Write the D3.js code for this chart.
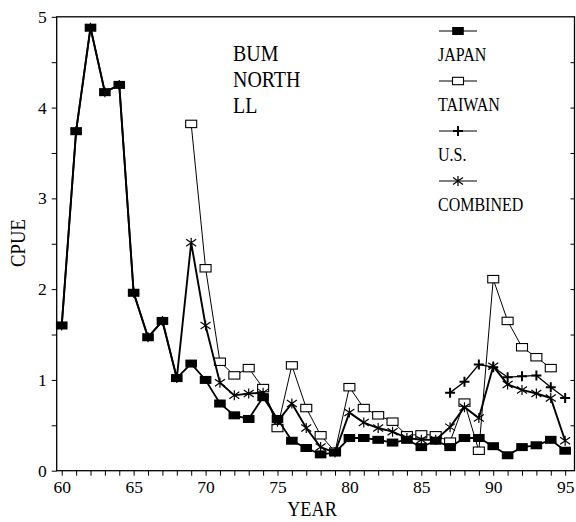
<!DOCTYPE html>
<html><head><meta charset="utf-8">
<script src="https://cdn.jsdelivr.net/npm/d3@7"></script>
<style>body{margin:0;background:#fff}svg{display:block}text{font-family:"Liberation Serif","Times New Roman",serif;fill:#000}</style>
</head><body><div id="chart"></div>
<script>
const years = d3.range(60, 96);
const japan = [1.60,3.74,4.88,4.17,4.25,1.96,1.47,1.65,1.02,1.18,1.00,0.74,0.61,0.57,0.81,0.57,0.33,0.25,0.18,0.20,0.36,0.36,0.34,0.31,0.34,0.26,0.33,0.26,0.36,0.36,0.27,0.17,0.26,0.28,0.34,0.22];
const taiwanYears = d3.range(69, 95);
const taiwan = [3.82,2.23,1.20,1.05,1.13,0.91,0.47,1.16,0.69,0.39,0.21,0.92,0.69,0.61,0.54,0.39,0.40,0.39,0.32,0.75,0.22,2.11,1.65,1.36,1.25,1.13];
const usYears = d3.range(87, 96);
const us = [0.86,0.98,1.17,1.14,1.03,1.04,1.05,0.92,0.80];
const combined = [1.60,3.74,4.88,4.17,4.25,1.96,1.47,1.65,1.02,2.51,1.60,0.97,0.83,0.85,0.86,0.54,0.74,0.47,0.26,0.20,0.64,0.53,0.47,0.43,0.36,0.34,0.34,0.48,0.70,0.58,1.15,0.95,0.89,0.85,0.80,0.33];
const xTicks = [60,65,70,75,80,85,90,95];
const yTicks = [0,1,2,3,4,5];
const legendLabels = ["JAPAN","TAIWAN","U.S.","COMBINED"];
const titleLines = ["BUM","NORTH","LL"];

const W = 576, H = 522;
const svg = d3.select("#chart").append("svg").attr("width", W).attr("height", H);
const x = d3.scaleLinear().domain([59.65, 95.65]).range([56.7, 574.5]);
const y = d3.scaleLinear().domain([0, 5]).range([470.7, 16.8]);

function ctext(g, tx, ty, size, sx, str, anchor, rot) {
  return g.append("text")
    .attr("transform", `translate(${tx},${ty})${rot ? " rotate(" + rot + ")" : ""} scale(${sx},1)`)
    .attr("font-size", size).attr("text-anchor", anchor || "start").text(str);
}

// frame
svg.append("rect").attr("x", x.range()[0]).attr("y", y(5)).attr("width", x.range()[1]-x.range()[0])
  .attr("height", y(0)-y(5)).attr("fill","none").attr("stroke","#000").attr("stroke-width",1.3);

// x axis
const xAxis = d3.axisBottom(x).tickValues(d3.range(60,96)).tickSize(5)
  .tickFormat(d => xTicks.includes(d) ? d : "");
const gx = svg.append("g").attr("transform", `translate(0,${y(0)})`).call(xAxis);
gx.select(".domain").remove();
gx.selectAll("text").attr("font-size", 17.5).attr("dy", "0.95em").attr("y", 6);
// y axis
const yAxis = d3.axisLeft(y).tickValues(d3.range(0, 5.01, 0.5)).tickSize(5)
  .tickFormat(d => yTicks.includes(d) ? d : "");
const gy = svg.append("g").attr("transform", `translate(${x.range()[0]},0)`).call(yAxis);
gy.select(".domain").remove();
gy.selectAll("text").attr("font-size", 17.5).attr("x", -10);
// right ticks
const gr = svg.append("g").attr("transform", `translate(${x.range()[1]},0)`)
  .call(d3.axisLeft(y).tickValues(d3.range(0.5, 5, 0.5)).tickSize(4).tickFormat(""));
gr.select(".domain").remove();
svg.selectAll(".tick line").attr("stroke","#000");

// axis titles
ctext(svg, 312, 516, 21, 0.87, "YEAR", "middle");
ctext(svg, 25, 243, 22, 0.85, "CPUE", "middle", -90);

// title block
titleLines.forEach((t, i) => ctext(svg, 233, 61 + i*25.8, 24, 0.83, t));

const line = d3.line().x(d => x(d[0])).y(d => y(d[1]));

function marker(g, type, cx, cy) {
  if (type === "filled") {
    g.append("rect").attr("x", cx-5.8).attr("y", cy-4).attr("width", 11.6).attr("height", 8).attr("fill","#000");
  } else if (type === "open") {
    g.append("rect").attr("x", cx-5.5).attr("y", cy-3.7).attr("width", 11).attr("height", 7.4).attr("fill","#fff").attr("stroke","#000").attr("stroke-width",1.1);
  } else if (type === "plus") {
    g.append("path").attr("d", `M${cx-5},${cy}H${cx+5}M${cx},${cy-5}V${cy+5}`).attr("stroke","#000").attr("stroke-width",2);
  } else {
    g.append("path").attr("d", `M${cx},${cy-5}V${cy+5}M${cx-5},${cy-3.5}L${cx+5},${cy+3.5}M${cx-5},${cy+3.5}L${cx+5},${cy-3.5}`)
      .attr("stroke","#000").attr("stroke-width",1.2);
  }
}

const series = [
  {name: legendLabels[0], xs: years, vs: japan, type: "filled", w: 1.8},
  {name: legendLabels[1], xs: taiwanYears, vs: taiwan, type: "open", w: 1},
  {name: legendLabels[2], xs: usYears, vs: us, type: "plus", w: 1.3},
  {name: legendLabels[3], xs: years, vs: combined, type: "star", w: 1.9}
];
[1,2,3,0].forEach(i => {
  const s = series[i];
  const pts = s.xs.map((yr, j) => [yr, s.vs[j]]);
  svg.append("path").attr("d", line(pts)).attr("fill","none").attr("stroke","#000").attr("stroke-width", s.w);
  const g = svg.append("g");
  pts.forEach(p => marker(g, s.type, x(p[0]), y(p[1])));
});

// legend
const leg = svg.append("g");
series.forEach((s, i) => {
  const sy = 31 + i*50;
  leg.append("line").attr("x1", 439).attr("x2", 477).attr("y1", sy).attr("y2", sy).attr("stroke","#000").attr("stroke-width",1);
  marker(leg, s.type, 458, sy);
  ctext(leg, 438, sy + 29.5, 19.5, 0.82, s.name);
});
</script></body></html>
